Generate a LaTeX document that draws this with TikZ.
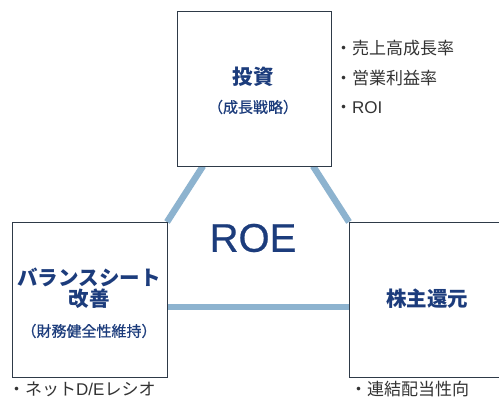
\documentclass[tikz,border=0pt]{standalone}
\usepackage{fontspec}
\newfontfamily\cjk{Noto Sans CJK JP}
\newfontfamily\cjkm[FakeBold=0.8]{Noto Sans CJK JP}
\setmainfont{Liberation Sans}
\newfontfamily\roefont[FakeBold=0.6]{Liberation Sans}
\definecolor{navy}{HTML}{1C3C7C}
\definecolor{linkblue}{HTML}{8DB3CF}
\definecolor{boxline}{HTML}{2E3A48}
\definecolor{txtgray}{HTML}{333333}
\tikzset{
  box/.style={draw=boxline, line width=0.9pt, fill=white},
  link/.style={draw=linkblue, line width=6.5pt},
  title/.style={text=navy, font=\cjk\bfseries\fontsize{20.5}{22}\selectfont, inner sep=0pt},
  sub/.style={text=navy, font=\cjkm\fontsize{15}{16}\selectfont, inner sep=0pt},
  note/.style={text=txtgray, font=\cjk\fontsize{17}{18}\selectfont, inner sep=0pt, anchor=west},
}
\begin{document}
\begin{tikzpicture}[x=1pt,y=-1pt]
\useasboundingbox (0,0) rectangle (499,405);
\fill[white] (0,0) rectangle (499,405);
% connectors (under boxes)
\coordinate (tl) at (203,166);
\coordinate (tr) at (313,166);
\coordinate (lc) at (167,222);
\coordinate (rc) at (349,222);
\coordinate (hl) at (167,307);
\coordinate (hr) at (349,307);
\draw[link] (tl) -- (lc);
\draw[link] (tr) -- (rc);
\draw[link] (hl) -- (hr);
% boxes
\node[box, minimum width=154pt, minimum height=155pt, anchor=north west] (inv) at (177,11) {};
\node[box, minimum width=155pt, minimum height=155pt, anchor=north west] (bs) at (12,222) {};
\node[box, minimum width=160pt, minimum height=155pt, anchor=north west] (sh) at (349,222) {};
% texts
\node[title] (invt) at (253,77) {投資};
\node[sub] (invs) at (253,107) {（成長戦略）};
\node[note] (n1) at (335,48) {・売上高成長率};
\node[note] (n2) at (335,78) {・営業利益率};
\node[note] (n3) at (335,108) {・{\fontspec{Liberation Sans}ROI}};
\node[text=navy, font=\roefont\fontsize{40}{42}\selectfont, inner sep=0pt] (roe) at (253,238) {ROE};
\node[title] (bst1) at (89,277) {バランスシート};
\node[title] (bst2) at (89,299) {改善};
\node[sub] (bss) at (89,331) {（財務健全性維持）};
\node[title] (sht) at (427,299) {株主還元};
\node[note] (n4) at (8,389) {・ネット{\fontspec{Liberation Sans}D/E}レシオ};
\node[note] (n5) at (350,389) {・連結配当性向};
\end{tikzpicture}
\end{document}
